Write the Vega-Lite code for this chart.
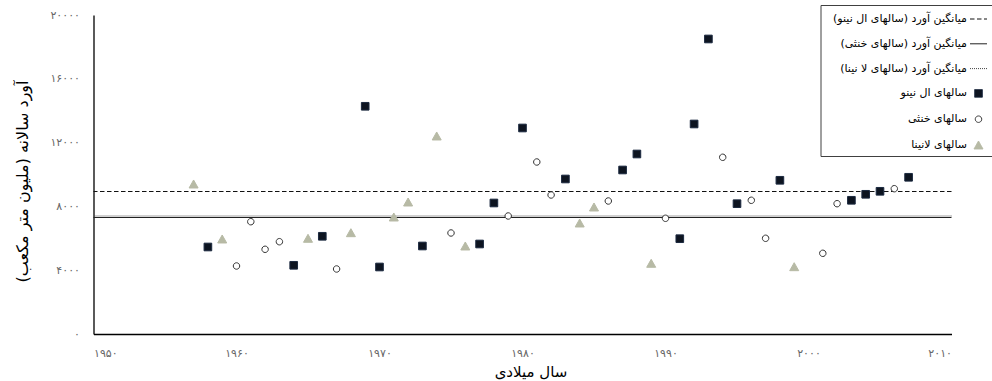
{
  "$schema": "https://vega.github.io/schema/vega-lite/v6.json",
  "width": 858,
  "height": 319,
  "autosize": {"type": "none"},
  "padding": {"left": 93.5, "top": 15, "right": 40.5, "bottom": 47},
  "background": "white",
  "config": {
    "view": {"stroke": null},
    "font": "DejaVu Sans",
    "legend": {
      "orient": "none",
      "legendX": 727,
      "legendY": -10,
      "padding": 5,
      "strokeColor": "#404040",
      "fillColor": "white",
      "symbolSize": 289,
      "symbolStrokeWidth": 1,
      "symbolOffset": 144,
      "labelAlign": "right",
      "labelOffset": -20.5,
      "labelFont": "DejaVu Sans",
      "labelFontSize": 11,
      "labelColor": "#000000",
      "rowPadding": 10.8,
      "labelLimit": 300,
      "symbolFillColor": "transparent"
    }
  },
  "layer": [
    {
      "data": {
        "values": [
          {"series": "میانگین آورد (سالهای ال نینو)\u200f", "value": 8935},
          {"series": "میانگین آورد (سالهای خنثی)\u200f", "value": 7305},
          {"series": "میانگین آورد (سالهای لا نینا)\u200f", "value": 7399}
        ]
      },
      "mark": {"type": "rule", "strokeWidth": 1.2},
      "encoding": {
        "y": {"field": "value", "type": "quantitative", "scale": {"domain": [0, 20000], "nice": false}},
        "stroke": {
          "field": "series", "type": "nominal",
          "scale": {
            "domain": ["میانگین آورد (سالهای ال نینو)\u200f", "میانگین آورد (سالهای خنثی)\u200f", "میانگین آورد (سالهای لا نینا)\u200f", "سالهای ال نینو", "سالهای خنثی", "سالهای لانینا"],
            "range": ["#111111", "#222222", "#444444", "#1c2a40", "#333333", "#b7baa5"]
          },
          "legend": {"title": null, "orient": "none", "legendX": 727, "legendY": -10}
        },
        "strokeDash": {
          "field": "series", "type": "nominal",
          "scale": {
            "domain": ["میانگین آورد (سالهای ال نینو)\u200f", "میانگین آورد (سالهای خنثی)\u200f", "میانگین آورد (سالهای لا نینا)\u200f", "سالهای ال نینو", "سالهای خنثی", "سالهای لانینا"],
            "range": [[4.5, 2.5], [1, 0], [1, 1], [1, 0], [1, 0], [1, 0]]
          },
          "legend": {"title": null, "orient": "none", "legendX": 727, "legendY": -10}
        }
      }
    },
    {
      "data": {
        "values": [
          {"year": 1958, "value": 5455, "series": "سالهای ال نینو"},
          {"year": 1964, "value": 4307, "series": "سالهای ال نینو"},
          {"year": 1966, "value": 6126, "series": "سالهای ال نینو"},
          {"year": 1969, "value": 14277, "series": "سالهای ال نینو"},
          {"year": 1970, "value": 4201, "series": "سالهای ال نینو"},
          {"year": 1973, "value": 5518, "series": "سالهای ال نینو"},
          {"year": 1977, "value": 5643, "series": "سالهای ال نینو"},
          {"year": 1978, "value": 8214, "series": "سالهای ال نینو"},
          {"year": 1980, "value": 12916, "series": "سالهای ال نینو"},
          {"year": 1983, "value": 9719, "series": "سالهای ال نینو"},
          {"year": 1987, "value": 10283, "series": "سالهای ال نینو"},
          {"year": 1988, "value": 11286, "series": "سالهای ال نینو"},
          {"year": 1991, "value": 5975, "series": "سالهای ال نینو"},
          {"year": 1992, "value": 13167, "series": "سالهای ال نینو"},
          {"year": 1993, "value": 18497, "series": "سالهای ال نینو"},
          {"year": 1995, "value": 8170, "series": "سالهای ال نینو"},
          {"year": 1998, "value": 9637, "series": "سالهای ال نینو"},
          {"year": 2003, "value": 8383, "series": "سالهای ال نینو"},
          {"year": 2004, "value": 8759, "series": "سالهای ال نینو"},
          {"year": 2005, "value": 8947, "series": "سالهای ال نینو"},
          {"year": 2007, "value": 9825, "series": "سالهای ال نینو"},
          {"year": 1960, "value": 4264, "series": "سالهای خنثی"},
          {"year": 1961, "value": 7041, "series": "سالهای خنثی"},
          {"year": 1962, "value": 5311, "series": "سالهای خنثی"},
          {"year": 1963, "value": 5787, "series": "سالهای خنثی"},
          {"year": 1967, "value": 4076, "series": "سالهای خنثی"},
          {"year": 1975, "value": 6333, "series": "سالهای خنثی"},
          {"year": 1979, "value": 7399, "series": "سالهای خنثی"},
          {"year": 1981, "value": 10784, "series": "سالهای خنثی"},
          {"year": 1982, "value": 8715, "series": "سالهای خنثی"},
          {"year": 1986, "value": 8339, "series": "سالهای خنثی"},
          {"year": 1990, "value": 7254, "series": "سالهای خنثی"},
          {"year": 1994, "value": 11079, "series": "سالهای خنثی"},
          {"year": 1996, "value": 8383, "series": "سالهای خنثی"},
          {"year": 1997, "value": 6000, "series": "سالهای خنثی"},
          {"year": 2001, "value": 5060, "series": "سالهای خنثی"},
          {"year": 2002, "value": 8170, "series": "سالهای خنثی"},
          {"year": 2006, "value": 9110, "series": "سالهای خنثی"},
          {"year": 1957, "value": 9405, "series": "سالهای لانینا"},
          {"year": 1959, "value": 5957, "series": "سالهای لانینا"},
          {"year": 1965, "value": 6000, "series": "سالهای لانینا"},
          {"year": 1968, "value": 6352, "series": "سالهای لانینا"},
          {"year": 1971, "value": 7336, "series": "سالهای لانینا"},
          {"year": 1972, "value": 8276, "series": "سالهای لانینا"},
          {"year": 1974, "value": 12415, "series": "سالهای لانینا"},
          {"year": 1976, "value": 5518, "series": "سالهای لانینا"},
          {"year": 1984, "value": 6960, "series": "سالهای لانینا"},
          {"year": 1985, "value": 7963, "series": "سالهای لانینا"},
          {"year": 1989, "value": 4433, "series": "سالهای لانینا"},
          {"year": 1999, "value": 4220, "series": "سالهای لانینا"}
        ]
      },
      "mark": {"type": "point", "filled": true, "opacity": 1, "size": 289, "strokeWidth": 1},
      "encoding": {
        "x": {
          "field": "year", "type": "quantitative",
          "scale": {"domain": [1950, 2010], "nice": false, "zero": false},
          "axis": {
            "values": [1950, 1960, 1970, 1980, 1990, 2000, 2010],
            "labelExpr": "datum.value == 1950 ? '۱۹۵۰' : datum.value == 1960 ? '۱۹۶۰' : datum.value == 1970 ? '۱۹۷۰' : datum.value == 1980 ? '۱۹۸۰' : datum.value == 1990 ? '۱۹۹۰' : datum.value == 2000 ? '۲۰۰۰' : '۲۰۱۰'",
            "ticks": false, "grid": false,
            "domainColor": "#000000", "domainWidth": 1.3,
            "labelColor": "#666666", "labelFontSize": 11, "labelPadding": 13,
            "title": "سال میلادی", "titleFontSize": 15, "titleFontWeight": "normal", "titleColor": "#000000",
            "titleX": 437, "titleY": 37, "titleBaseline": "middle", "titleAlign": "center"
          }
        },
        "y": {
          "field": "value", "type": "quantitative",
          "scale": {"domain": [0, 20000], "nice": false},
          "axis": {
            "values": [0, 4000, 8000, 12000, 16000, 20000],
            "labelExpr": "datum.value == 0 ? '۰' : datum.value == 4000 ? '۴۰۰۰' : datum.value == 8000 ? '۸۰۰۰' : datum.value == 12000 ? '۱۲۰۰۰' : datum.value == 16000 ? '۱۶۰۰۰' : '۲۰۰۰۰'",
            "ticks": false, "grid": false,
            "domainColor": "#000000", "domainWidth": 1.3,
            "labelColor": "#666666", "labelFontSize": 11, "labelPadding": 14,
            "title": "آورد سالانه (ملیون متر مکعب)\u200f", "titleFontSize": 16, "titleFontWeight": "normal", "titleColor": "#000000",
            "titleX": -71.5, "titleY": 166, "titleAngle": 270, "titleBaseline": "middle", "titleAlign": "center"
          }
        },
        "shape": {
          "field": "series", "type": "nominal",
          "scale": {
            "domain": ["میانگین آورد (سالهای ال نینو)\u200f", "میانگین آورد (سالهای خنثی)\u200f", "میانگین آورد (سالهای لا نینا)\u200f", "سالهای ال نینو", "سالهای خنثی", "سالهای لانینا"],
            "range": ["M-1,0H1", "M-1,0H1", "M-1,0H1", "M-0.45,-0.45H0.45V0.45H-0.45Z", "M-0.38,0A0.38,0.38 0 1,0 0.38,0A0.38,0.38 0 1,0 -0.38,0Z", "M0,-0.47L0.53,0.47H-0.53Z"]
          },
          "legend": {"title": null, "orient": "none", "legendX": 727, "legendY": -10}
        },
        "fill": {
          "field": "series", "type": "nominal",
          "scale": {
            "domain": ["میانگین آورد (سالهای ال نینو)\u200f", "میانگین آورد (سالهای خنثی)\u200f", "میانگین آورد (سالهای لا نینا)\u200f", "سالهای ال نینو", "سالهای خنثی", "سالهای لانینا"],
            "range": ["transparent", "transparent", "transparent", "#0d1420", "#ffffff", "#b7baa5"]
          },
          "legend": {"title": null, "orient": "none", "legendX": 727, "legendY": -10}
        },
        "stroke": {
          "field": "series", "type": "nominal",
          "legend": {"title": null, "orient": "none", "legendX": 727, "legendY": -10}
        }
      }
    }
  ]
}
